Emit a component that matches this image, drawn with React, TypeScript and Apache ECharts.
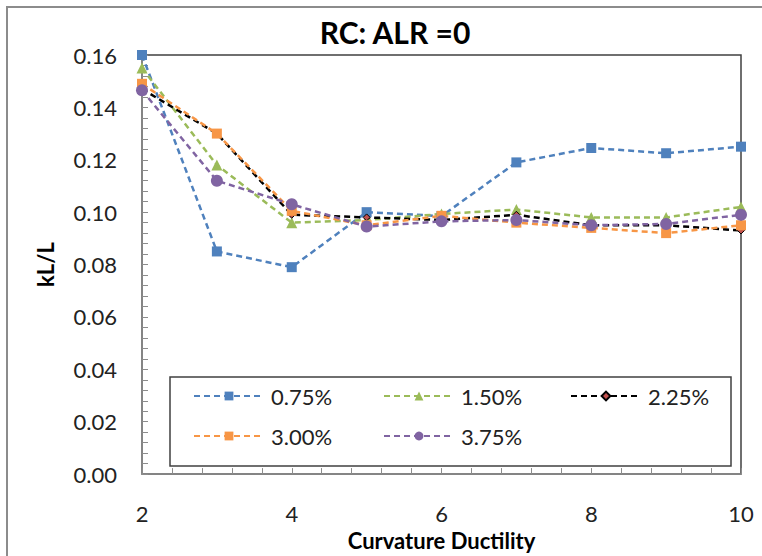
import React, { useEffect, useRef } from "react";
import * as echarts from "echarts";

const ductility = [2, 3, 4, 5, 6, 7, 8, 9, 10];
const seriesNames = ["0.75%", "1.50%", "2.25%", "3.00%", "3.75%"];
const s075 = [0.16, 0.085, 0.079, 0.1, 0.0985, 0.119, 0.1245, 0.1225, 0.125];
const s150 = [0.155, 0.118, 0.096, 0.097, 0.0993, 0.101, 0.098, 0.098, 0.102];
const s225 = [0.147, 0.13, 0.099, 0.098, 0.097, 0.099, 0.095, 0.095, 0.093];
const s300 = [0.149, 0.13, 0.1005, 0.095, 0.0986, 0.096, 0.094, 0.092, 0.095];
const s375 = [0.1465, 0.112, 0.103, 0.0945, 0.0965, 0.097, 0.095, 0.0955, 0.099];
const yTicks = { min: 0, max: 0.16, step: 0.02 };
const xTicks = { min: 2, max: 10, step: 2 };

const FONT = "Lato";

export default function App() {
  const ref = useRef<HTMLDivElement>(null);
  useEffect(() => {
    if (!ref.current) return;
    const chart = echarts.init(ref.current, null, { renderer: "svg" });
    const pair = (vals: number[]) => ductility.map((x, i) => [x, vals[i]]);
    const dash = [6, 4];
    const mk = (
      name: string,
      vals: number[],
      color: string,
      symbol: string,
      size: number,
      lineColor?: string,
      border?: string
    ) => ({
      name,
      type: "line",
      data: pair(vals),
      symbol,
      symbolSize: size,
      itemStyle: { color, borderColor: border || color, borderWidth: border ? 1 : 0 },
      lineStyle: { color: lineColor || color, width: 2.5, type: dash },
    });
    const legendPos = [
      [193, 385],
      [383, 385],
      [570, 385],
      [193, 425],
      [383, 425],
    ];
    const legends = seriesNames.map((n, i) => ({
      data: [n],
      left: legendPos[i][0],
      top: legendPos[i][1],
      itemWidth: 70,
      itemHeight: 11,
      itemGap: 0,
      padding: 0,
      textStyle: { fontFamily: FONT, fontSize: 22, color: "#222", padding: [0, 0, 0, 2] },
    }));
    chart.setOption({
      animation: false,
      backgroundColor: "#fff",
      title: {
        text: "RC: ALR =0",
        left: 390,
        textAlign: "center",
        top: 12,
        textStyle: { fontFamily: FONT, fontSize: 30, fontWeight: "bold", color: "#000" },
      },
      legend: legends,
      grid: {
        left: 142,
        top: 55,
        right: 21,
        bottom: 76,
        show: true,
        borderColor: "#404040",
        borderWidth: 1.5,
        backgroundColor: "transparent",
      },
      xAxis: {
        type: "value",
        min: xTicks.min,
        max: xTicks.max,
        interval: xTicks.step,
        name: "Curvature Ductility",
        nameLocation: "middle",
        nameGap: 44,
        nameTextStyle: { fontFamily: FONT, fontSize: 22, fontWeight: "bold", color: "#000" },
        axisLine: { lineStyle: { color: "#8c8c8c", width: 1.5 } },
        axisTick: { inside: true, length: 6, lineStyle: { color: "#8c8c8c" } },
        minorTick: { show: true, splitNumber: 5, length: 6, lineStyle: { color: "#8c8c8c" } },
        splitLine: { show: false },
        axisLabel: { fontFamily: FONT, fontSize: 22, color: "#222", margin: 28 },
      },
      yAxis: {
        type: "value",
        min: yTicks.min,
        max: yTicks.max,
        interval: yTicks.step,
        name: "kL/L",
        nameLocation: "middle",
        nameGap: 86,
        nameTextStyle: { fontFamily: FONT, fontSize: 22, fontWeight: "bold", color: "#000" },
        axisLine: { show: true, lineStyle: { color: "#8c8c8c", width: 1.5 } },
        axisTick: { show: true, inside: true, length: 6, lineStyle: { color: "#8c8c8c" } },
        minorTick: { show: true, splitNumber: 5, length: 6, lineStyle: { color: "#8c8c8c" } },
        splitLine: { show: false },
        axisLabel: {
          fontFamily: FONT,
          fontSize: 22,
          color: "#222",
          margin: 25,
          formatter: (v: number) => v.toFixed(2),
        },
      },
      graphic: [
        {
          type: "rect",
          shape: { x: 170, y: 377, width: 561, height: 89 },
          style: { fill: "#fff", stroke: "#404040", lineWidth: 1.5 },
          z: 0,
          zlevel: 0,
        },
        {
          type: "polyline",
          shape: { points: [[7, 600], [7, 7], [800, 7]] },
          style: { fill: "none", stroke: "#8c8c8c", lineWidth: 2 },
        },
      ],
      series: [
        mk(seriesNames[0], s075, "#4F81BD", "rect", 10),
        mk(seriesNames[1], s150, "#9BBB59", "triangle", 11),
        mk(seriesNames[2], s225, "#C0504D", "diamond", 7, "#000", "#000"),
        mk(seriesNames[3], s300, "#F79646", "rect", 10),
        mk(seriesNames[4], s375, "#8064A2", "circle", 12),
      ],
    });
    return () => chart.dispose();
  }, []);
  return <div ref={ref} style={{ width: 762, height: 556, position: "absolute", left: 0, top: 0 }} />;
}
